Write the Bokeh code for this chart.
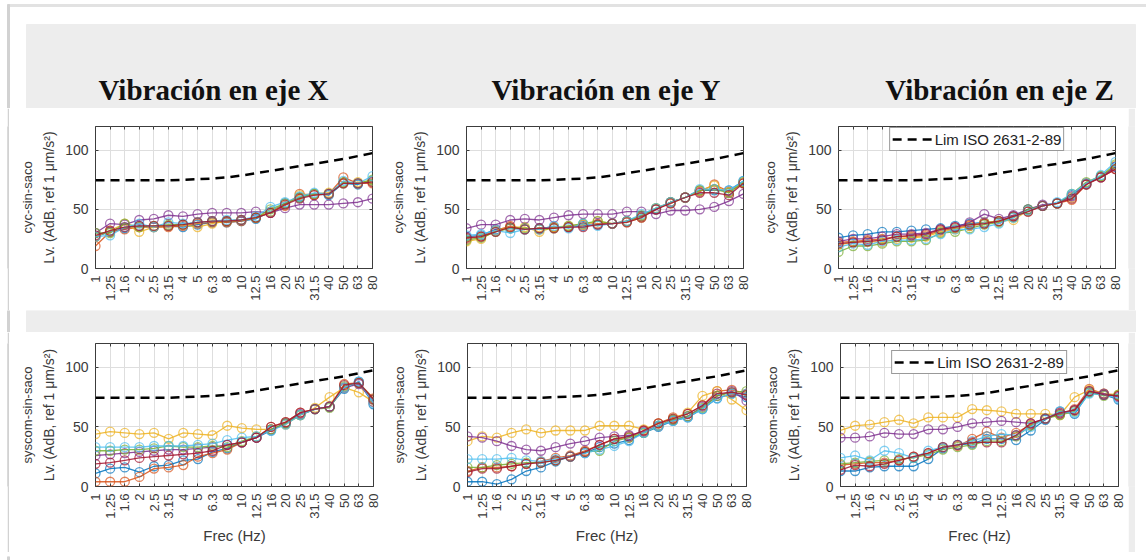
from math import pi

from bokeh.core.properties import value
from bokeh.embed import file_html
from bokeh.layouts import column, row
from bokeh.models import CustomJSTickFormatter, FixedTicker, LinearAxis, Range1d
from bokeh.plotting import figure
from bokeh.resources import INLINE

# One-third octave band centres (Hz)
freqs = ["1", "1.25", "1.6", "2", "2.5", "3.15", "4", "5", "6.3", "8",
         "10", "12.5", "16", "20", "25", "31.5", "40", "50", "63", "80"]

# ISO 2631-2 (1989) limit curve, dB ref 1 um/s^2
lim_iso = [74.5, 74.5, 74.5, 74.5, 74.5, 74.5, 75, 75.5, 76, 77,
           78.5, 80.5, 82.5, 84.5, 86.5, 88.5, 90.5, 92.5, 95, 97.5]

titles = ["Vibración en eje X", "Vibración en eje Y", "Vibración en eje Z"]
row_names = ["cyc-sin-saco", "syscom-sin-saco"]
legend_text = "Lim ISO 2631-2-89"
y_label = "Lv. (AdB, ref 1 μm/s²)"
x_label = "Frec (Hz)"

# Measured levels, one list per measurement point (7 per panel)
cyc_x = [
    [27, 31, 34, 36, 35, 36, 35, 37, 39, 39, 40, 42, 48, 55, 60, 63, 62, 72, 71, 74],
    [19, 31, 33, 35, 35, 35, 36, 38, 39, 39, 40, 43, 47, 53, 63, 62, 63, 77, 72, 72],
    [27, 32, 38, 31, 35, 36, 37, 35, 38, 40, 41, 43, 48, 54, 62, 63, 64, 72, 73, 74],
    [30, 38, 37, 41, 42, 45, 44, 46, 47, 47, 47, 48, 47, 51, 54, 54, 54, 55, 56, 59],
    [30, 30, 38, 35, 36, 37, 37, 39, 40, 40, 41, 43, 50, 55, 60, 63, 63, 73, 72, 75],
    [27, 28, 35, 38, 35, 39, 38, 39, 40, 41, 41, 44, 52, 56, 61, 64, 63, 74, 72, 78],
    [28, 32, 35, 36, 36, 36, 37, 39, 40, 40, 41, 43, 47, 54, 59, 62, 63, 72, 72, 73],
]
cyc_y = [
    [27, 28, 33, 34, 33, 34, 35, 35, 36, 37, 38, 40, 44, 50, 56, 60, 66, 66, 66, 74],
    [25, 27, 32, 36, 33, 33, 35, 35, 37, 38, 38, 40, 44, 50, 56, 60, 65, 71, 65, 72],
    [23, 25, 32, 35, 35, 31, 35, 36, 37, 40, 38, 39, 43, 51, 55, 60, 66, 70, 64, 73],
    [34, 37, 37, 41, 42, 41, 43, 45, 46, 46, 46, 48, 48, 46, 49, 49, 50, 52, 57, 63],
    [24, 26, 31, 34, 34, 33, 34, 36, 38, 40, 38, 40, 45, 51, 56, 60, 66, 67, 64, 73],
    [28, 29, 32, 30, 33, 33, 36, 34, 38, 36, 38, 40, 46, 51, 56, 60, 67, 67, 66, 74],
    [26, 27, 31, 35, 33, 34, 34, 35, 35, 37, 38, 39, 43, 50, 55, 60, 64, 64, 62, 72],
]
cyc_z = [
    [26, 28, 29, 31, 31, 32, 33, 34, 36, 38, 39, 40, 44, 50, 53, 55, 62, 71, 78, 86],
    [22, 23, 24, 25, 27, 27, 28, 32, 34, 36, 38, 40, 44, 48, 53, 55, 58, 71, 77, 84],
    [20, 22, 23, 22, 25, 26, 27, 31, 33, 36, 39, 40, 41, 49, 53, 55, 60, 72, 78, 87],
    [23, 25, 25, 27, 29, 29, 30, 33, 35, 39, 46, 42, 45, 50, 54, 55, 61, 72, 77, 86],
    [14, 19, 19, 21, 23, 23, 24, 30, 31, 34, 37, 39, 43, 50, 53, 55, 63, 73, 78, 88],
    [18, 21, 20, 23, 24, 24, 25, 29, 33, 33, 35, 38, 43, 49, 53, 56, 63, 72, 79, 90],
    [21, 22, 23, 24, 27, 28, 29, 33, 35, 37, 38, 40, 44, 48, 53, 55, 59, 71, 77, 84],
]
sys_x = [
    [11, 15, 16, 12, 17, 18, 22, 23, 29, 32, 37, 41, 47, 53, 60, 65, 67, 82, 88, 69],
    [4, 4, 4, 8, 15, 16, 18, 25, 28, 31, 37, 41, 50, 54, 62, 65, 67, 86, 87, 74],
    [44, 46, 45, 44, 45, 40, 45, 44, 43, 51, 49, 48, 48, 52, 60, 66, 75, 83, 79, 71],
    [26, 27, 28, 29, 30, 31, 31, 32, 33, 35, 37, 41, 48, 53, 61, 65, 67, 83, 86, 71],
    [30, 30, 31, 31, 32, 34, 33, 33, 34, 33, 38, 42, 48, 53, 60, 65, 66, 84, 87, 73],
    [33, 33, 33, 33, 34, 34, 34, 35, 36, 39, 41, 42, 47, 52, 60, 65, 67, 83, 88, 70],
    [19, 20, 22, 24, 25, 26, 27, 28, 30, 35, 37, 41, 50, 54, 62, 65, 67, 85, 87, 73],
]
sys_y = [
    [4, 4, 2, 6, 13, 16, 21, 25, 28, 33, 36, 39, 45, 50, 55, 58, 65, 74, 78, 75],
    [13, 16, 16, 17, 19, 21, 24, 26, 30, 35, 40, 41, 47, 53, 58, 61, 68, 80, 81, 78],
    [38, 42, 41, 45, 48, 45, 47, 47, 47, 51, 51, 51, 48, 53, 57, 62, 76, 80, 73, 64],
    [42, 41, 38, 34, 31, 30, 33, 36, 38, 41, 42, 43, 46, 51, 56, 59, 67, 76, 80, 72],
    [16, 16, 18, 19, 20, 20, 22, 25, 29, 30, 38, 41, 45, 51, 56, 59, 66, 76, 79, 80],
    [23, 23, 23, 24, 22, 21, 23, 25, 28, 31, 34, 38, 45, 51, 55, 58, 65, 74, 78, 78],
    [12, 15, 15, 17, 19, 20, 22, 25, 29, 35, 40, 42, 47, 53, 57, 61, 68, 78, 79, 77],
]
sys_z = [
    [13, 13, 16, 17, 17, 17, 23, 32, 35, 36, 40, 40, 39, 47, 56, 63, 61, 79, 77, 73],
    [18, 19, 20, 20, 22, 25, 28, 33, 34, 40, 46, 41, 45, 52, 57, 61, 65, 82, 78, 76],
    [47, 51, 52, 54, 56, 53, 58, 58, 58, 65, 64, 63, 61, 61, 61, 60, 75, 81, 78, 77],
    [41, 41, 42, 45, 44, 44, 48, 48, 50, 53, 54, 55, 54, 53, 57, 61, 64, 80, 78, 75],
    [19, 20, 21, 22, 23, 24, 27, 31, 33, 35, 38, 38, 42, 51, 57, 60, 63, 79, 76, 77],
    [24, 26, 22, 30, 28, 24, 30, 33, 35, 38, 42, 44, 43, 50, 57, 63, 62, 78, 77, 74],
    [14, 18, 17, 19, 22, 25, 28, 33, 35, 37, 37, 37, 43, 53, 57, 62, 64, 80, 77, 76],
]

# MATLAB default colour order
colors = ["#0072BD", "#D95319", "#EDB120", "#7E2F8E", "#77AC30", "#4DBEEE", "#A2142F"]

SANS = "Liberation Sans"
SERIF = "Liberation Serif"
TEXT = "#3a3a3a"
BAND = "#ededed"
EDGE = "#d2d2d2"
WHITE = "#ffffff"
PAGE_W = 1146


def deco(w, h):
    """Blank canvas in pixel coordinates (y grows downwards)."""
    p = figure(width=w, height=h, x_range=Range1d(0, w), y_range=Range1d(h, 0),
               output_backend="svg", toolbar_location=None, min_border=0,
               x_axis_location=None, y_axis_location=None,
               outline_line_color=None, background_fill_color=WHITE,
               border_fill_color=WHITE)
    p.grid.visible = False
    return p


def solid(w, h, color):
    """Plain coloured strip used as page margin."""
    p = deco(w, h)
    p.background_fill_color = color
    p.border_fill_color = color
    p.quad(left=0, right=w, top=0, bottom=h, color=color)
    return p


def style_tick_only(ax):
    ax.formatter = CustomJSTickFormatter(code="return ''")
    ax.major_label_text_font_size = "0px"
    ax.major_label_standoff = 0
    ax.major_tick_in = 3
    ax.major_tick_out = 0
    ax.minor_tick_in = 0
    ax.minor_tick_out = 0
    ax.axis_line_color = None
    ax.major_tick_line_color = "#3c3c3c"


def panel(geom, series, row_name, with_xlabel, legend_margin):
    w, h, bl, br, bt, bb = geom
    idx = list(range(len(freqs)))
    p = figure(width=w, height=h, x_range=Range1d(0, len(freqs) - 1),
               y_range=Range1d(0, 120), output_backend="svg",
               toolbar_location=None, min_border_left=bl, min_border_right=br,
               min_border_top=bt, min_border_bottom=bb,
               background_fill_color=WHITE, border_fill_color=WHITE,
               outline_line_color="#3c3c3c", outline_line_width=1)

    xt = FixedTicker(ticks=idx)
    yt = FixedTicker(ticks=[0, 50, 100])
    xa = p.xaxis[0]
    ya = p.yaxis[0]
    xa.ticker = xt
    ya.ticker = yt
    p.xgrid.ticker = xt
    p.ygrid.ticker = yt
    p.grid.grid_line_color = "#dedede"
    p.grid.grid_line_width = 1

    xa.major_label_overrides = {i: f for i, f in enumerate(freqs)}
    xa.major_label_orientation = pi / 2
    for ax in (xa, ya):
        ax.major_tick_in = 3
        ax.major_tick_out = 0
        ax.minor_tick_in = 0
        ax.minor_tick_out = 0
        ax.axis_line_color = None
        ax.major_tick_line_color = "#3c3c3c"
        ax.major_label_text_font = SANS
        ax.major_label_text_color = TEXT
        ax.axis_label_text_font = SANS
        ax.axis_label_text_font_style = "normal"
        ax.axis_label_text_color = TEXT
    xa.major_label_text_font_size = "13px"
    xa.major_label_standoff = 7
    ya.major_label_text_font_size = "14px"
    ya.major_label_standoff = 7
    ya.axis_label = y_label
    ya.axis_label_text_font_size = "14px"
    ya.axis_label_standoff = 5
    if with_xlabel:
        xa.axis_label = x_label
        xa.axis_label_text_font_size = "15px"
        xa.axis_label_standoff = 5

    # second line of the y label: the measurement set
    name_ax = LinearAxis(ticker=FixedTicker(ticks=[]), axis_label=row_name)
    name_ax.axis_line_color = None
    name_ax.major_tick_line_color = None
    name_ax.minor_tick_line_color = None
    name_ax.major_label_text_font_size = "0px"
    name_ax.major_label_standoff = 0
    name_ax.axis_label_standoff = 4
    name_ax.axis_label_text_font = SANS
    name_ax.axis_label_text_font_style = "normal"
    name_ax.axis_label_text_font_size = "13px"
    name_ax.axis_label_text_color = TEXT
    p.add_layout(name_ax, "left")

    top = LinearAxis(ticker=xt)
    right = LinearAxis(ticker=yt)
    style_tick_only(top)
    style_tick_only(right)
    p.add_layout(top, "above")
    p.add_layout(right, "right")

    for s, c in zip(series, colors):
        p.line(idx, s, line_color=c, line_width=1.3, line_alpha=0.85)
        p.scatter(idx, s, marker="circle", size=9, fill_color=None,
                  line_color=c, line_alpha=0.7, line_width=1.3)

    if legend_margin is not None:
        p.line(idx, lim_iso, line_color="black", line_width=2.5,
               line_dash="9 6", legend_label=legend_text)
        lg = p.legend[0]
        lg.location = "top_center"
        lg.margin = legend_margin
        lg.padding = 2
        lg.spacing = 0
        lg.label_standoff = 3
        lg.glyph_width = 40
        lg.glyph_height = 18
        lg.label_height = 18
        lg.label_text_font = SANS
        lg.label_text_font_size = "15px"
        lg.label_text_color = "#222222"
        lg.border_line_color = "#333333"
        lg.border_line_width = 1
        lg.background_fill_alpha = 1
    else:
        p.line(idx, lim_iso, line_color="black", line_width=2.5, line_dash="9 6")
    return p


# Header with the title band
head = deco(PAGE_W, 108)
head.quad(left=8, right=PAGE_W, top=4, bottom=6, color="#e2e2e2")
head.quad(left=7, right=9, top=4, bottom=108, color=EDGE)
head.quad(left=26, right=1135, top=24, bottom=108, color=BAND)
head.text(x=[213, 606, 999], y=[89, 89, 89], text=titles,
          text_font=value(SERIF), text_font_style="bold", text_font_size="29px",
          text_align="center", text_baseline="alphabetic", text_color="#111111")


def left_margin(h):
    return [solid(7, h, WHITE), solid(2, h, EDGE), solid(1, h, WHITE)]


def right_margin(h):
    return [solid(7, h, BAND), solid(11, h, WHITE)]


# (width, height, border left, right, top, bottom)
top_geoms = [(371, 202, 85, 9, 18, 42), (372, 202, 85, 10, 18, 42), (375, 202, 85, 13, 18, 42)]
bot_geoms = [(372, 220, 85, 9, 11, 66), (373, 220, 85, 9, 11, 66), (373, 220, 85, 10, 11, 66)]
top_legend = [None, None, 1]
bot_legend = [None, None, 7]

top_panels = [panel(g, s, row_names[0], False, m)
              for g, s, m in zip(top_geoms, [cyc_x, cyc_y, cyc_z], top_legend)]
bot_panels = [panel(g, s, row_names[1], True, m)
              for g, s, m in zip(bot_geoms, [sys_x, sys_y, sys_z], bot_legend)]

band = deco(PAGE_W, 22)
band.quad(left=7, right=9, top=0, bottom=22, color=EDGE)
band.quad(left=26, right=1135, top=0, bottom=22, color=BAND)

foot = deco(PAGE_W, 8)
foot.quad(left=7, right=9, top=0, bottom=5, color=EDGE)
foot.quad(left=8, right=PAGE_W, top=4, bottom=6, color="#c4c4c4")

layout = column(
    head,
    row(*left_margin(202), *top_panels, *right_margin(202)),
    band,
    row(*left_margin(220), *bot_panels, *right_margin(220)),
    foot,
)

with open("out.html", "w") as fh:
    fh.write(file_html(layout, INLINE))
